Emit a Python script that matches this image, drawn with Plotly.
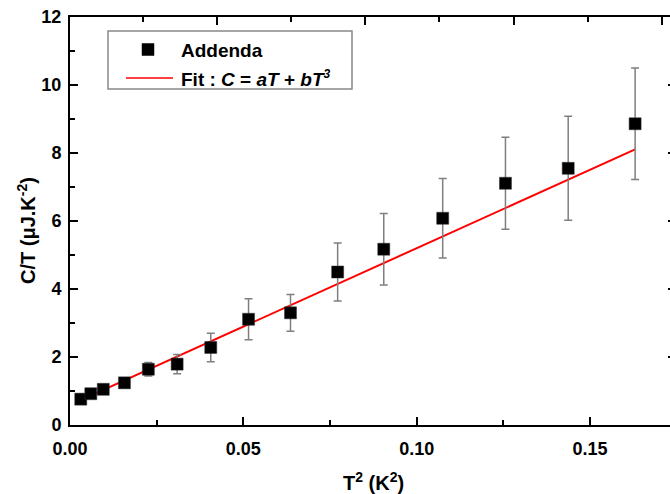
import plotly.graph_objects as go

# ---- data ----
t2 = [0.0031, 0.0060, 0.0096, 0.0157, 0.0226, 0.0309, 0.0406, 0.0515, 0.0636,
      0.0772, 0.0905, 0.1075, 0.1256, 0.1437, 0.1630]
ct = [0.76, 0.92, 1.05, 1.24, 1.64, 1.79, 2.28, 3.11, 3.30,
      4.50, 5.17, 6.08, 7.11, 7.55, 8.86]
ct_err = [0.06, 0.06, 0.07, 0.08, 0.20, 0.28, 0.42, 0.60, 0.54,
          0.85, 1.05, 1.17, 1.35, 1.53, 1.64]
fit_a = 0.59
fit_b = 46.1

x_ticks = [0.00, 0.05, 0.10, 0.15]
x_labels = ["0.00", "0.05", "0.10", "0.15"]
y_ticks = [0, 2, 4, 6, 8, 10, 12]

W, H = 670, 494
ML, MR, MT, MB = 70, 0, 17, 69
PW, PH = W - ML - MR, H - MT - MB

def px(x):
    return (x - ML) / PW

def py(y):
    return (H - MB - y) / PH

FONT = "Liberation Sans, Arial, sans-serif"

fit_x = [t2[0], t2[-1]]
fit_y = [fit_a + fit_b * v for v in fit_x]

fig = go.Figure()
fig.add_trace(go.Scatter(
    x=fit_x, y=fit_y, mode="lines",
    line=dict(color="#ff0000", width=2), showlegend=False, hoverinfo="skip"))
fig.add_trace(go.Scatter(
    x=t2, y=ct, mode="markers",
    marker=dict(symbol="square", size=12, color="black",
                line=dict(color="#333", width=0.5)),
    error_y=dict(type="data", array=ct_err, visible=True,
                 color="#7f7f7f", thickness=1.5, width=4),
    showlegend=False))
# helper trace for top / right decorative axes
fig.add_trace(go.Scatter(x=[None], y=[None], xaxis="x2", yaxis="y2",
                         showlegend=False, hoverinfo="skip"))

axis_common = dict(showgrid=False, zeroline=False, showline=True,
                   linecolor="black", linewidth=2, ticks="inside",
                   tickcolor="black", tickwidth=1.5)

fig.update_layout(
    width=W, height=H,
    margin=dict(l=ML, r=MR, t=MT, b=MB, pad=0),
    paper_bgcolor="white", plot_bgcolor="white",
    showlegend=False,
    xaxis=dict(**axis_common, range=[0, 0.17306], tickvals=x_ticks,
               ticktext=x_labels, ticklen=8,
               minor=dict(dtick=0.025, ticklen=5, tickcolor="black",
                          tickwidth=1.5, ticks="inside"),
               tickfont=dict(family=FONT, size=18, color="black", weight="bold"),
               ticklabelstandoff=6),
    yaxis=dict(**axis_common, range=[0, 12], tickvals=y_ticks, ticklen=8,
               minor=dict(dtick=1, ticklen=5, tickcolor="black",
                          tickwidth=1.5, ticks="inside"),
               tickfont=dict(family=FONT, size=18, color="black", weight="bold"),
               ticklabelstandoff=3),
    xaxis2=dict(overlaying="x", side="top", anchor="y", range=[0.02, 8.11],
                showgrid=False, zeroline=False, showline=True,
                linecolor="black", linewidth=2, ticks="inside",
                tickcolor="black", tickwidth=1.5, ticklen=8, dtick=2,
                showticklabels=False,
                minor=dict(dtick=1, ticklen=5, tickcolor="black",
                           tickwidth=1.5, ticks="inside")),
    yaxis2=dict(overlaying="y", side="right", anchor="x", range=[0, 12],
                showgrid=False, zeroline=False, showline=False,
                ticks="inside", tickcolor="black", tickwidth=1.5, ticklen=2,
                tickvals=[2, 4, 6, 8, 10], showticklabels=False),
)

# axis titles
fig.add_annotation(x=px(373), y=py(481), xref="paper", yref="paper",
                   text="T<sup>2</sup> (K<sup>2</sup>)", showarrow=False,
                   font=dict(family=FONT, size=20, color="black", weight="bold"),
                   xanchor="center", yanchor="middle")
fig.add_annotation(x=px(26), y=py(231), xref="paper", yref="paper",
                   text="C/T (\u03bcJ.K<sup>-2</sup>)", showarrow=False,
                   textangle=-90,
                   font=dict(family=FONT, size=20, color="black", weight="bold"),
                   xanchor="center", yanchor="middle")

# legend box
fig.add_shape(type="rect", xref="paper", yref="paper",
              x0=px(108), x1=px(352), y0=py(89), y1=py(31),
              line=dict(color="#888888", width=1.5), fillcolor="white", layer="above")
fig.add_shape(type="rect", xref="paper", yref="paper",
              x0=px(142), x1=px(154), y0=py(55.5), y1=py(43.5),
              line=dict(color="black", width=0.5), fillcolor="black", layer="above")
fig.add_shape(type="line", xref="paper", yref="paper",
              x0=px(126), x1=px(173), y0=py(78), y1=py(78),
              line=dict(color="#ff0000", width=1.5), layer="above")
fig.add_annotation(x=px(179), y=py(50), xref="paper", yref="paper",
                   text="Addenda", showarrow=False,
                   font=dict(family=FONT, size=19, color="black", weight="bold"),
                   xanchor="left", yanchor="middle")
fig.add_annotation(x=px(179), y=py(78), xref="paper", yref="paper",
                   text="Fit : <i>C</i> = <i>aT</i> + <i>bT</i>"
                        "<sup><i><span style='font-size:12px'>3</span></i></sup>",
                   showarrow=False,
                   font=dict(family=FONT, size=19, color="black", weight="bold"),
                   xanchor="left", yanchor="middle")

fig.write_html("out.html")
